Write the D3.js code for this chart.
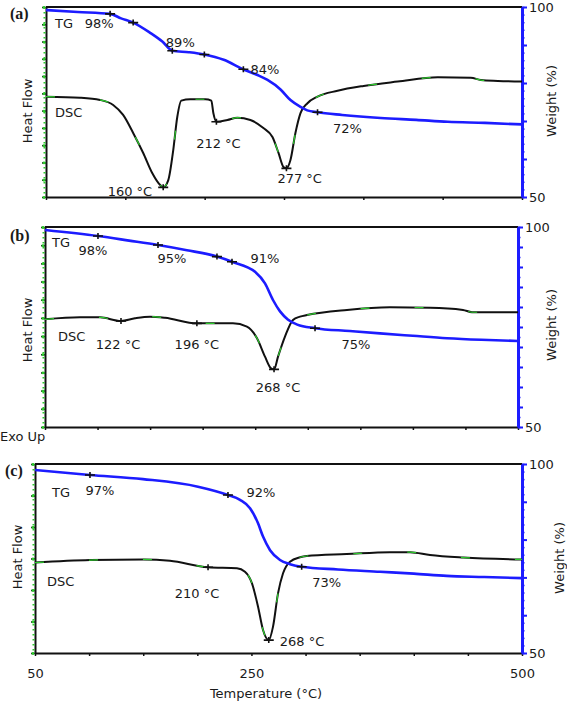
<!DOCTYPE html>
<html><head><meta charset="utf-8">
<script src="https://cdn.jsdelivr.net/npm/d3@7"></script>
<style>
body{margin:0;background:#fff}
svg text{font-family:"DejaVu Sans",Verdana,sans-serif;font-size:13px;fill:#1a1a1a}
</style>
</head><body>
<svg id="chart" width="567" height="701"></svg>
<script>
// ---------- DATA ----------
const tempDomain = [50, 500];
const weightDomain = [50, 100];
const xTickLabels = [50, 250, 500];
const weightTickLabels = [100, 50];
const panelNames = ["(a)", "(b)", "(c)"];

// Panel (a)
const tgTempA = [50, 80, 110.6, 121, 132.4, 148.5, 160, 169.4, 185, 199.7, 218, 236.6, 250, 259.4, 271.7, 281.1, 290.6, 297, 306.7, 330, 366.4, 400, 429.8, 465, 500];
const tgWeightA = [99.2, 98.7, 98.2, 97.0, 95.9, 93.2, 90.9, 88.5, 88.1, 87.5, 86.1, 83.6, 82.1, 80.8, 78.3, 75.5, 73.7, 72.8, 72.3, 71.6, 70.8, 70.3, 69.8, 69.5, 69.1];
const dscTempA = [50, 82.2, 101.1, 113.5, 122.9, 132.4, 141.9, 150.4, 158, 160.8, 165.6, 170.3, 174.1, 177.9, 186.4, 200.6, 206.3, 208.2, 211.1, 221.5, 230.9, 243.2, 255.5, 264.1, 269.8, 274.5, 277.3, 281.1, 285.8, 290.6, 297.2, 306.7, 325.6, 350.3, 382.5, 420.4, 451.6, 461.1, 477.2, 500];
const dscHeatA = [5.81, 5.75, 5.62, 5.33, 4.75, 3.71, 2.55, 1.39, 0.69, 0.56, 0.98, 2.72, 4.63, 5.58, 5.66, 5.66, 5.58, 4.86, 4.36, 4.46, 4.59, 4.46, 3.99, 3.47, 2.55, 1.74, 1.66, 2.14, 3.71, 4.86, 5.43, 5.81, 6.15, 6.43, 6.68, 6.93, 6.91, 6.77, 6.72, 6.68];
const tgMarksA = [110.6, 132.4, 169.4, 199.7, 236.6, 306.7];
const dscMarksA = [160.8, 211.1, 277.3];

// Panel (b)
const tgTempB = [50, 100.4, 130, 157.5, 185, 213.6, 227.9, 249.8, 259.3, 266.9, 273.6, 281, 290, 306.9, 340, 368.7, 400, 432.4, 465, 500];
const tgWeightB = [99.25, 97.75, 96.6, 95.5, 94.2, 92.6, 91.3, 88.8, 85.9, 81.75, 78.9, 76.9, 75.6, 74.7, 74.0, 73.4, 72.8, 72.2, 71.8, 71.5];
const dscTempB = [50, 83.3, 102.4, 122.3, 135.6, 149.9, 164.2, 194.5, 228.8, 242.1, 251.7, 259.3, 265, 267.9, 271.7, 278.3, 285.9, 292.6, 299.2, 337.3, 378.2, 416.3, 447.7, 456.2, 500];
const dscHeatB = [5.92, 6.03, 6.03, 5.83, 5.98, 6.07, 6.01, 5.70, 5.70, 5.52, 4.88, 3.87, 3.23, 3.17, 3.87, 4.97, 5.89, 6.07, 6.16, 6.44, 6.58, 6.56, 6.44, 6.31, 6.31];
const tgMarksB = [100.4, 157.5, 213.6, 227.9, 306.9];
const dscMarksB = [122.3, 194.5, 267.9];

// Panel (c)
const tgTempC = [50, 100.8, 149.8, 200.6, 228.3, 239.4, 248.7, 256.1, 260.7, 267.2, 276.4, 285.6, 296.4, 330, 368.8, 400, 430.4, 465, 500];
const tgWeightC = [98.4, 97.1, 96.0, 94.0, 91.8, 90.5, 88.3, 84.3, 80.8, 77.2, 74.6, 73.5, 72.8, 72.1, 71.5, 71.0, 70.4, 70.1, 69.8];
const dscTempC = [50, 100.8, 149.8, 174.7, 209.9, 236.6, 244, 250.5, 256.1, 260.7, 266, 269.9, 274.6, 279.2, 285.6, 294.9, 301, 338, 378, 396.5, 415, 445.8, 500];
const dscHeatC = [2.87, 2.95, 2.97, 2.93, 2.72, 2.69, 2.58, 2.21, 1.47, 0.73, 0.41, 0.83, 1.9, 2.53, 2.90, 3.04, 3.08, 3.14, 3.20, 3.20, 3.11, 3.03, 2.97];
const tgMarksC = [100.8, 228.3, 296.4];
const dscMarksC = [209.9, 266];

// Annotation texts
const labelsA = ["98%", "89%", "84%", "72%", "160 °C", "212 °C", "277 °C"];
const labelsB = ["98%", "95%", "91%", "75%", "122 °C", "196 °C", "268 °C"];
const labelsC = ["97%", "92%", "73%", "210 °C", "268 °C"];

// ---------- LAYOUT ----------
const panels = [
  {name: panelNames[0], left: 46, right: 522, top: 7, bottom: 197, xStep: 75, hfMax: 11, wMajor: 10, wMinor: 2,
   tgT: tgTempA, tgW: tgWeightA, dT: dscTempA, dH: dscHeatA, tgM: tgMarksA, dM: dscMarksA,
   ann: [
     {text: labelsA[0], s: "tg", t: 110.6, dx: -11, dy: 14, a: "middle"},
     {text: labelsA[1], s: "tg", t: 169.4, dx: 8, dy: -4, a: "middle"},
     {text: labelsA[2], s: "tg", t: 236.6, dx: 7, dy: 5, a: "start"},
     {text: labelsA[3], s: "tg", t: 306.7, dx: 30, dy: 21, a: "middle"},
     {text: labelsA[4], s: "dsc", t: 160.8, dx: -11, dy: 9, a: "end"},
     {text: labelsA[5], s: "dsc", t: 211.1, dx: 2, dy: 26, a: "middle"},
     {text: labelsA[6], s: "dsc", t: 277.3, dx: -9, dy: 15, a: "start"}],
   tgLbl: [55, 28], dscLbl: [55, 117], nameXY: [10, 19], hfXY: [27, 111], wXY: [551, 101], showX: false},
  {name: panelNames[1], left: 45, right: 518, top: 227, bottom: 427, xStep: 50, hfMax: 11, wMajor: 5, wMinor: 2.5,
   tgT: tgTempB, tgW: tgWeightB, dT: dscTempB, dH: dscHeatB, tgM: tgMarksB, dM: dscMarksB,
   ann: [
     {text: labelsB[0], s: "tg", t: 100.4, dx: -5, dy: 19, a: "middle"},
     {text: labelsB[1], s: "tg", t: 157.5, dx: 14, dy: 18, a: "middle"},
     {text: labelsB[2], s: "tg", t: 227.9, dx: 33, dy: 1, a: "middle"},
     {text: labelsB[3], s: "tg", t: 306.9, dx: 41, dy: 21, a: "middle"},
     {text: labelsB[4], s: "dsc", t: 122.3, dx: -3, dy: 28, a: "middle"},
     {text: labelsB[5], s: "dsc", t: 194.5, dx: 0, dy: 26, a: "middle"},
     {text: labelsB[6], s: "dsc", t: 267.9, dx: 4, dy: 23, a: "middle"}],
   tgLbl: [52, 247], dscLbl: [58, 341], nameXY: [10, 241], hfXY: [27, 330], wXY: [551, 325], showX: false},
  {name: panelNames[2], left: 35, right: 522, top: 464, bottom: 653, xStep: 50, hfMax: 6, wMajor: 10, wMinor: 2,
   tgT: tgTempC, tgW: tgWeightC, dT: dscTempC, dH: dscHeatC, tgM: tgMarksC, dM: dscMarksC,
   ann: [
     {text: labelsC[0], s: "tg", t: 100.8, dx: 10, dy: 20, a: "middle"},
     {text: labelsC[1], s: "tg", t: 228.3, dx: 33, dy: 2, a: "middle"},
     {text: labelsC[2], s: "tg", t: 296.4, dx: 25, dy: 20, a: "middle"},
     {text: labelsC[3], s: "dsc", t: 209.9, dx: -11, dy: 31, a: "middle"},
     {text: labelsC[4], s: "dsc", t: 266, dx: 11, dy: 6, a: "start"}],
   tgLbl: [52, 497], dscLbl: [47, 586], nameXY: [5, 476], hfXY: [17, 557], wXY: [559, 558], showX: true}
];

const BLUE = "#1c1cff", GREEN = "#2ecc2e", BLACK = "#111";
const svg = d3.select("#chart");

panels.forEach(p => {
  const x = d3.scaleLinear(tempDomain, [p.left, p.right]);
  const yW = d3.scaleLinear(weightDomain, [p.bottom, p.top]);
  const yH = d3.scaleLinear([0, p.hfMax], [p.bottom, p.top]);
  const g = svg.append("g");

  // top border
  g.append("line").attr("x1", p.left).attr("x2", p.right).attr("y1", p.top).attr("y2", p.top)
    .attr("stroke", BLACK).attr("stroke-width", 2);

  // bottom axis
  const xa = g.append("g").attr("transform", `translate(0,${p.bottom})`)
    .call(d3.axisBottom(x).tickValues(d3.range(50, 501, p.xStep)).tickSize(3).tickSizeOuter(0)
      .tickFormat(d => p.showX && xTickLabels.includes(d) ? d : ""));
  xa.select(".domain").attr("stroke", BLACK).attr("stroke-width", 2);
  xa.selectAll(".tick line").attr("stroke", BLACK).attr("stroke-width", 1.5);
  xa.selectAll(".tick text").attr("dy", "1.45em").style("font-size", "13px");

  // left axis
  const la = g.append("g").attr("transform", `translate(${p.left},0)`)
    .call(d3.axisLeft(yH).tickValues(d3.range(0, p.hfMax + 1)).tickSize(4).tickSizeOuter(0).tickFormat(""));
  la.select(".domain").attr("stroke", BLACK).attr("stroke-width", 2);
  la.selectAll(".tick line").attr("stroke", BLACK).attr("stroke-width", 1.5);
  g.append("line").attr("x1", p.left - 1.5).attr("x2", p.left - 1.5).attr("y1", p.top).attr("y2", p.bottom)
    .attr("stroke", GREEN).attr("stroke-width", 2).attr("stroke-dasharray", "1.5,3.5");
  la.selectAll(".tick").append("circle").attr("cx", -2).attr("r", 1.4).attr("fill", GREEN);

  // right axis (weight)
  const ra = g.append("g").attr("transform", `translate(${p.right},0)`)
    .call(d3.axisRight(yW).tickValues(d3.range(50, 100.01, p.wMinor)).tickSize(2.5).tickSizeOuter(0).tickFormat(""));
  ra.select(".domain").attr("stroke", BLUE).attr("stroke-width", 3);
  ra.selectAll(".tick line").attr("stroke", BLUE).attr("stroke-width", 1.5);
  const rb = g.append("g").attr("transform", `translate(${p.right},0)`)
    .call(d3.axisRight(yW).tickValues(d3.range(50, 100.01, p.wMajor)).tickSize(5).tickSizeOuter(0)
      .tickFormat(d => weightTickLabels.includes(d) ? d : ""));
  rb.select(".domain").remove();
  rb.selectAll(".tick line").attr("stroke", BLUE).attr("stroke-width", 2);
  rb.selectAll(".tick text").attr("x", 7).style("font-size", "13px");

  // curves
  const lineTG = d3.line().x(d => x(d[0])).y(d => yW(d[1])).curve(d3.curveMonotoneX);
  const lineDSC = d3.line().x(d => x(d[0])).y(d => yH(d[1])).curve(d3.curveMonotoneX);
  const tgData = p.tgT.map((t, i) => [t, p.tgW[i]]);
  const dscData = p.dT.map((t, i) => [t, p.dH[i]]);

  g.append("path").datum(dscData).attr("d", lineDSC).attr("fill", "none")
    .attr("stroke", BLACK).attr("stroke-width", 2);
  g.append("path").datum(dscData).attr("d", lineDSC).attr("fill", "none")
    .attr("stroke", GREEN).attr("stroke-width", 1.2).attr("stroke-dasharray", "9,45");
  g.append("path").datum(tgData).attr("d", lineTG).attr("fill", "none")
    .attr("stroke", BLUE).attr("stroke-width", 2.6);

  // markers
  const cross = (cx, cy) => {
    g.append("path").attr("d", `M${cx - 5},${cy}H${cx + 5}M${cx},${cy - 3}V${cy + 3}`)
      .attr("stroke", BLACK).attr("stroke-width", 1.6);
  };
  const tgVal = t => p.tgW[p.tgT.indexOf(t)];
  const dscVal = t => p.dH[p.dT.indexOf(t)];
  p.tgM.forEach(t => cross(x(t), yW(tgVal(t))));
  p.dM.forEach(t => cross(x(t), yH(dscVal(t))));

  // annotations
  p.ann.forEach(a => {
    const px = x(a.t), py = a.s === "tg" ? yW(tgVal(a.t)) : yH(dscVal(a.t));
    g.append("text").attr("x", px + a.dx).attr("y", py + a.dy).attr("text-anchor", a.a).text(a.text);
  });
  g.append("text").attr("x", p.tgLbl[0]).attr("y", p.tgLbl[1]).text("TG");
  g.append("text").attr("x", p.dscLbl[0]).attr("y", p.dscLbl[1]).text("DSC");

  // panel name
  g.append("text").attr("x", p.nameXY[0]).attr("y", p.nameXY[1])
    .style("font-family", "'Liberation Serif','DejaVu Serif',serif").style("font-weight", "bold").style("font-size", "16px")
    .text(p.name);

  // axis titles
  g.append("text").attr("transform", `translate(${p.hfXY[0]},${p.hfXY[1]}) rotate(-90)`)
    .attr("text-anchor", "middle").attr("dy", "0.35em").text("Heat Flow");
  g.append("text").attr("transform", `translate(${p.wXY[0]},${p.wXY[1]}) rotate(-90)`)
    .attr("text-anchor", "middle").attr("dy", "0.35em").text("Weight (%)");
});

svg.append("text").attr("x", 0).attr("y", 441).text("Exo Up");
svg.append("text").attr("x", 266).attr("y", 698).attr("text-anchor", "middle").text("Temperature (°C)");
</script>
</body></html>
